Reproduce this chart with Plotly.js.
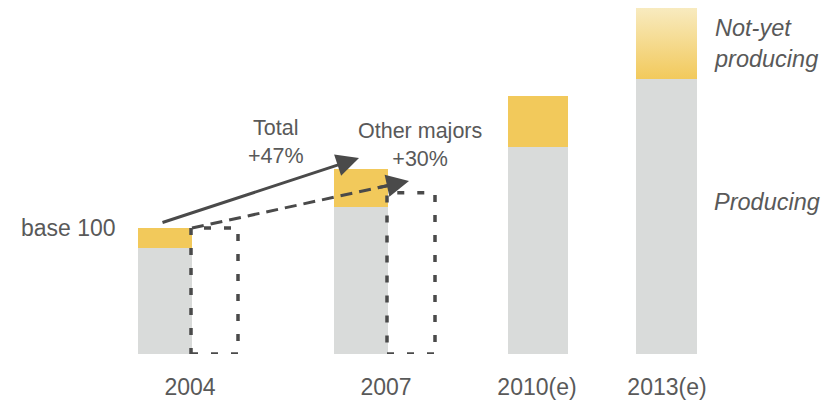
<!DOCTYPE html>
<html>
<head>
<meta charset="utf-8">
<script src="https://cdn.plot.ly/plotly-3.0.1.min.js"></script>
<style>html,body{margin:0;padding:0;background:#fff;}#chart{width:835px;height:402px;}</style>
</head>
<body>
<div id="chart"></div>
<script>
// ---- data ----
const years = ['2004', '2007', '2010(e)', '2013(e)'];
const producing = [84, 117, 164, 218];
const notYetProducing = [16, 30, 41, 57];
const otherMajorsYears = ['2004', '2007'];
const otherMajors = [100, 128];
const totalGrowthLabel = 'Total<br>+47%';
const majorsGrowthLabel = 'Other majors<br>+30%';

// ---- layout constants (positions / sizes, not data) ----
const barCenter = {'2004': 165, '2007': 361, '2010(e)': 538, '2013(e)': 666};
const barWidth = {'2004': 54, '2007': 54, '2010(e)': 60, '2013(e)': 61};
const labelCenter = {'2004': 190, '2007': 386, '2010(e)': 537, '2013(e)': 667};
const majorsCenter = {'2004': 214.5, '2007': 411};
const majorsWidth = {'2004': 47, '2007': 48};

const GRAY = '#D9DBDA';
const YELLOW = '#F2C95B';
const DARK = '#4A4A4A';
const TXT = '#595959';
const FONT = 'Liberation Sans, Arial, sans-serif';

const xs = years.map(y => barCenter[y]);
const ws = years.map(y => barWidth[y]);

const traces = [
  {type: 'bar', name: 'Producing', x: xs, y: producing, width: ws,
   marker: {color: GRAY}, hoverinfo: 'skip'},
  {type: 'bar', name: 'Not-yet producing', x: xs, y: notYetProducing, width: ws,
   marker: {color: YELLOW}, hoverinfo: 'skip'}
];

const shapes = otherMajorsYears.map((y, i) => ({
  type: 'rect', xref: 'x', yref: 'y',
  x0: majorsCenter[y] - majorsWidth[y] / 2, x1: majorsCenter[y] + majorsWidth[y] / 2,
  y0: 0, y1: otherMajors[i],
  line: {color: DARK, width: 3.5, dash: '7px,13px'}, fillcolor: 'rgba(0,0,0,0)'
}));

// growth arrows (start and tip in data units)
const total2004 = producing[0] + notYetProducing[0];
const solidArrow = {x0: 161, y0: total2004 + 4, x1: 359, y1: 155.5};
const dashedArrow = {x0: 192, y0: otherMajors[0], x1: 409, y1: 137.3};

// dashed line body
const dfrac = 0.93;
shapes.push({
  type: 'line', xref: 'x', yref: 'y',
  x0: dashedArrow.x0, y0: dashedArrow.y0,
  x1: dashedArrow.x0 + (dashedArrow.x1 - dashedArrow.x0) * dfrac,
  y1: dashedArrow.y0 + (dashedArrow.y1 - dashedArrow.y0) * dfrac,
  line: {color: DARK, width: 3, dash: '12px,7px'}
});

const annotations = [
  {x: solidArrow.x1, y: solidArrow.y1, ax: solidArrow.x0, ay: solidArrow.y0,
   xref: 'x', yref: 'y', axref: 'x', ayref: 'y', text: '', showarrow: true,
   arrowhead: 2, arrowsize: 1.5, arrowwidth: 3, arrowcolor: DARK},
  {x: dashedArrow.x1, y: dashedArrow.y1,
   ax: dashedArrow.x0 + (dashedArrow.x1 - dashedArrow.x0) * 0.85,
   ay: dashedArrow.y0 + (dashedArrow.y1 - dashedArrow.y0) * 0.85,
   xref: 'x', yref: 'y', axref: 'x', ayref: 'y', text: '', showarrow: true,
   arrowhead: 2, arrowsize: 1.5, arrowwidth: 3, arrowcolor: DARK},
  {x: 276, y: 168, xref: 'x', yref: 'y', text: totalGrowthLabel, showarrow: false,
   font: {family: FONT, size: 21.5, color: TXT}, xanchor: 'center', yanchor: 'middle'},
  {x: 420, y: 165.5, xref: 'x', yref: 'y', text: majorsGrowthLabel, showarrow: false,
   font: {family: FONT, size: 21.5, color: TXT}, xanchor: 'center', yanchor: 'middle'},
  {x: 118, y: total2004, xref: 'x', yref: 'y', text: 'base 100', showarrow: false,
   font: {family: FONT, size: 23, color: TXT}, xanchor: 'right', yanchor: 'middle'},
  {x: 712, y: 246.5, xref: 'x', yref: 'y', text: '<i>Not-yet<br>producing</i>', showarrow: false,
   font: {family: FONT, size: 23.5, color: TXT}, xanchor: 'left', yanchor: 'middle', align: 'left'},
  {x: 712, y: 120.5, xref: 'x', yref: 'y', text: '<i>Producing</i>', showarrow: false,
   font: {family: FONT, size: 23.5, color: TXT}, xanchor: 'left', yanchor: 'middle', align: 'left'}
];

const layout = {
  width: 835, height: 402,
  margin: {l: 0, r: 0, t: 0, b: 48, pad: 0},
  paper_bgcolor: '#fff', plot_bgcolor: '#fff',
  barmode: 'stack', showlegend: false,
  xaxis: {range: [0, 835], showgrid: false, zeroline: false, showline: false,
          tickmode: 'array', tickvals: years.map(y => labelCenter[y]), ticktext: years,
          ticks: '', ticklabelstandoff: 17,
          tickfont: {family: FONT, size: 23, color: TXT}, fixedrange: true},
  yaxis: {range: [0, 354 / 1.26], visible: false, fixedrange: true},
  shapes: shapes, annotations: annotations, hovermode: false
};

Plotly.newPlot('chart', traces, layout, {displayModeBar: false, staticPlot: true}).then(gd => {
  // gradient fill on the last not-yet-producing bar
  const svg = gd.querySelector('.main-svg');
  const ns = 'http://www.w3.org/2000/svg';
  let defs = svg.querySelector('defs');
  if (!defs) { defs = document.createElementNS(ns, 'defs'); svg.insertBefore(defs, svg.firstChild); }
  const g = document.createElementNS(ns, 'linearGradient');
  g.setAttribute('id', 'nyGrad');
  g.setAttribute('x1', '0'); g.setAttribute('y1', '0');
  g.setAttribute('x2', '0'); g.setAttribute('y2', '1');
  [['0%', '#F8EBC0'], ['100%', YELLOW]].forEach(([o, c]) => {
    const s = document.createElementNS(ns, 'stop');
    s.setAttribute('offset', o); s.setAttribute('stop-color', c);
    g.appendChild(s);
  });
  defs.appendChild(g);
  const barTraces = gd.querySelectorAll('.barlayer .trace');
  const pts = barTraces[1].querySelectorAll('.point path');
  const last = pts[pts.length - 1];
  if (last) last.style.fill = 'url(#nyGrad)';
});
</script>
</body>
</html>
